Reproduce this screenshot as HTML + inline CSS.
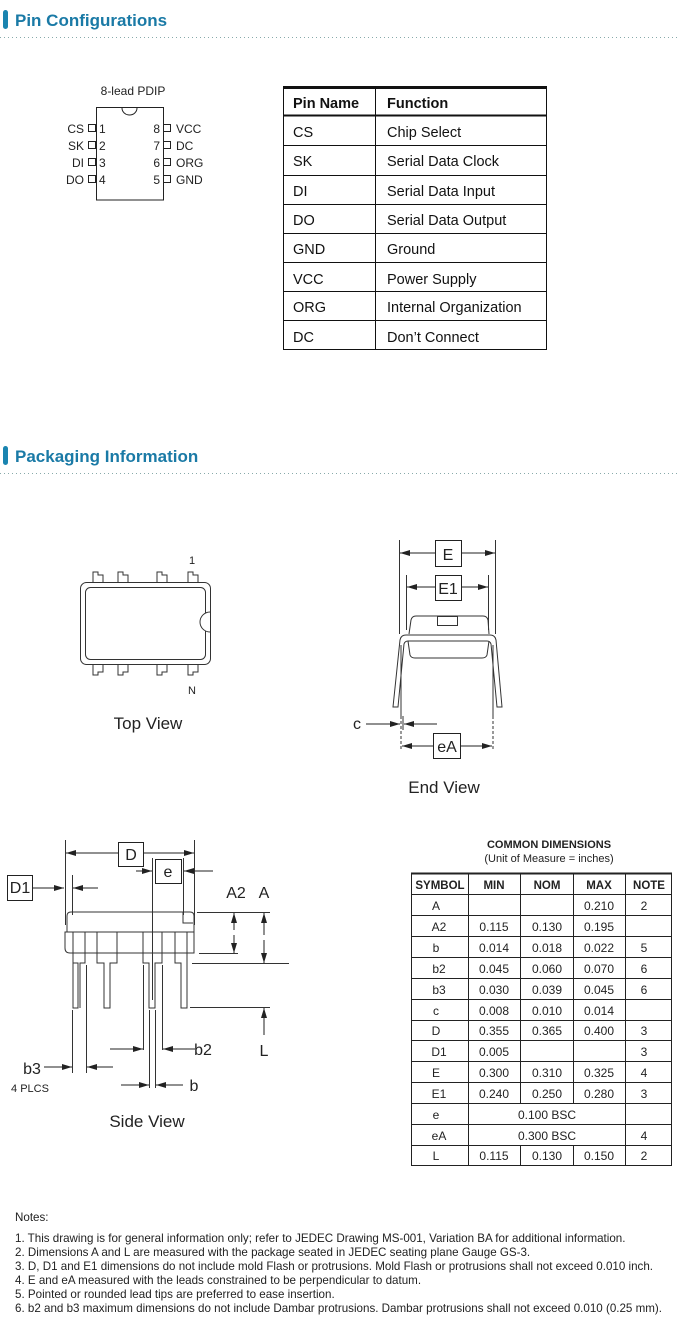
<!DOCTYPE html>
<html><head><meta charset="utf-8"><style>
html,body{margin:0;padding:0;background:#fff;}
svg{display:block;font-family:"Liberation Sans",sans-serif;}
</style></head><body>
<svg width="680" height="1342" viewBox="0 0 680 1342" xmlns="http://www.w3.org/2000/svg">
<defs>
<marker id="ar" viewBox="0 0 10 6" refX="10" refY="3" markerWidth="10" markerHeight="6" markerUnits="userSpaceOnUse" orient="auto"><path d="M0,0 L10,3 L0,6 z" fill="#222"/></marker>
</defs>
<!-- headers -->
<rect x="3" y="10" width="5" height="19" rx="2.5" fill="#1a84b0"/>
<text x="15" y="26" font-size="17" font-weight="bold" fill="#1a7aa6">Pin Configurations</text>
<line x1="0" y1="37.5" x2="680" y2="37.5" stroke="#8aa" stroke-dasharray="1,3"/>
<rect x="3" y="446" width="5" height="19" rx="2.5" fill="#1a84b0"/>
<text x="15" y="462" font-size="17" font-weight="bold" fill="#1a7aa6">Packaging Information</text>
<line x1="0" y1="473.5" x2="680" y2="473.5" stroke="#8aa" stroke-dasharray="1,3"/>

<!-- PDIP -->
<g fill="#222" font-size="12">
<text x="133" y="95" text-anchor="middle">8-lead PDIP</text>
<rect x="96.5" y="107.5" width="67" height="92.5" fill="none" stroke="#222"/>
<path d="M122,108 A7.5,7 0 0 0 137,108" fill="#fff" stroke="#222"/>
<g fill="none" stroke="#222">
<rect x="88.5" y="124.5" width="7" height="7"/><rect x="88.5" y="141.5" width="7" height="7"/><rect x="88.5" y="158.5" width="7" height="7"/><rect x="88.5" y="175.5" width="7" height="7"/>
<rect x="163.5" y="124.5" width="7" height="7"/><rect x="163.5" y="141.5" width="7" height="7"/><rect x="163.5" y="158.5" width="7" height="7"/><rect x="163.5" y="175.5" width="7" height="7"/>
</g>
<text x="84" y="133" text-anchor="end">CS</text><text x="84" y="150" text-anchor="end">SK</text><text x="84" y="167" text-anchor="end">DI</text><text x="84" y="184" text-anchor="end">DO</text>
<text x="99" y="133">1</text><text x="99" y="150">2</text><text x="99" y="167">3</text><text x="99" y="184">4</text>
<text x="160" y="133" text-anchor="end">8</text><text x="160" y="150" text-anchor="end">7</text><text x="160" y="167" text-anchor="end">6</text><text x="160" y="184" text-anchor="end">5</text>
<text x="176" y="133">VCC</text><text x="176" y="150">DC</text><text x="176" y="167">ORG</text><text x="176" y="184">GND</text>
</g>

<!-- pin table -->
<g stroke="#111" fill="none">
<line x1="283" y1="87.5" x2="547" y2="87.5" stroke-width="3"/>
<line x1="283" y1="115.5" x2="547" y2="115.5" stroke-width="2"/>
<line x1="283.5" y1="86" x2="283.5" y2="350"/>
<line x1="546.5" y1="86" x2="546.5" y2="350"/>
<line x1="375.5" y1="89" x2="375.5" y2="350"/>
<line x1="283" y1="145.5" x2="547" y2="145.5"/><line x1="283" y1="175.5" x2="547" y2="175.5"/><line x1="283" y1="204.5" x2="547" y2="204.5"/><line x1="283" y1="233.5" x2="547" y2="233.5"/><line x1="283" y1="262.5" x2="547" y2="262.5"/><line x1="283" y1="291.5" x2="547" y2="291.5"/><line x1="283" y1="320.5" x2="547" y2="320.5"/><line x1="283" y1="349.5" x2="547" y2="349.5"/>
</g>
<g fill="#111" font-size="14.5">
<text x="293" y="108" font-weight="bold">Pin Name</text><text x="387" y="108" font-weight="bold">Function</text>
<text x="293" y="137">CS</text><text x="387" y="137">Chip Select</text>
<text x="293" y="166">SK</text><text x="387" y="166">Serial Data Clock</text>
<text x="293" y="196">DI</text><text x="387" y="196">Serial Data Input</text>
<text x="293" y="225">DO</text><text x="387" y="225">Serial Data Output</text>
<text x="293" y="254">GND</text><text x="387" y="254">Ground</text>
<text x="293" y="284">VCC</text><text x="387" y="284">Power Supply</text>
<text x="293" y="312">ORG</text><text x="387" y="312">Internal Organization</text>
<text x="293" y="342">DC</text><text x="387" y="342">Don’t Connect</text>
</g>

<!-- Top view -->
<g fill="none" stroke="#333">
<rect x="80.5" y="582.5" width="130" height="82" rx="6"/>
<rect x="85.5" y="587.5" width="120" height="72" rx="5"/>
<path d="M210,612 A10,10 0 0 0 210,632" fill="#fff"/>
<path d="M93,582 V572 H98 V575 H103 V582 M118,582 V572 H123 V575 H128 V582 M157,582 V572 H162 V575 H167 V582 M188,582 V572 H193 V575 H198 V582"/>
<path d="M93,665 V675 H98 V672 H103 V665 M118,665 V675 H123 V672 H128 V665 M157,665 V675 H162 V672 H167 V665 M188,665 V675 H193 V672 H198 V665"/>
</g>
<text x="192" y="564" font-size="11" fill="#222" text-anchor="middle">1</text>
<text x="192" y="694" font-size="11" fill="#222" text-anchor="middle">N</text>
<text x="148" y="729" font-size="17" fill="#222" text-anchor="middle">Top View</text>

<!-- End view -->
<g fill="none" stroke="#333">
<line x1="399.5" y1="540" x2="399.5" y2="634"/><line x1="495.5" y1="540" x2="495.5" y2="634"/>
<line x1="406.5" y1="575" x2="406.5" y2="630"/><line x1="488.5" y1="575" x2="488.5" y2="630"/>
<path d="M409,634 L411,620 Q412,616 416,616 H483 Q487,616 488,620 L489,634"/>
<rect x="437.5" y="616.5" width="20" height="9"/>
<path d="M400,640 Q401,635 406,635 H490 Q495,635 496,640 L502,707 H497 L491,644 Q490,641 487,641 H408 Q405,641 404,644 L398,707 H393 Z"/>
<path d="M408,641 L410,655 Q411,658 415,658 H482 Q486,658 487,655 L489,641"/>
<line x1="401" y1="645" x2="401" y2="716"/><line x1="493" y1="645" x2="493" y2="716"/>
<line x1="401" y1="716" x2="401" y2="750" stroke-dasharray="3,2"/><line x1="493" y1="716" x2="493" y2="750" stroke-dasharray="3,2"/>
<line x1="403" y1="716" x2="403" y2="730"/>
</g>
<g stroke="#222" fill="none">
<line x1="435" y1="553" x2="400" y2="553" marker-end="url(#ar)"/><line x1="461" y1="553" x2="495" y2="553" marker-end="url(#ar)"/>
<line x1="435" y1="587" x2="407" y2="587" marker-end="url(#ar)"/><line x1="461" y1="587" x2="488" y2="587" marker-end="url(#ar)"/>
<line x1="366" y1="724" x2="400" y2="724" marker-end="url(#ar)"/><line x1="437" y1="724" x2="404" y2="724" marker-end="url(#ar)"/>
<line x1="433" y1="746" x2="402" y2="746" marker-end="url(#ar)"/><line x1="460" y1="746" x2="492" y2="746" marker-end="url(#ar)"/>
<rect x="435.5" y="540.5" width="26" height="26" fill="#fff"/>
<rect x="435.5" y="575.5" width="26" height="25" fill="#fff"/>
<rect x="433.5" y="733.5" width="27" height="25" fill="#fff"/>
</g>
<g fill="#222" font-size="16" text-anchor="middle">
<text x="448" y="560">E</text><text x="448" y="594">E1</text><text x="447" y="752">eA</text>
<text x="357" y="729">c</text>
<text x="444" y="793" font-size="17">End View</text>
</g>

<!-- Side view -->
<g fill="none" stroke="#333">
<line x1="65.5" y1="840" x2="65.5" y2="925"/><line x1="194.5" y1="840" x2="194.5" y2="925"/>
<line x1="72.5" y1="875" x2="72.5" y2="915"/>
<line x1="152.5" y1="858" x2="152.5" y2="1000"/><line x1="183.5" y1="858" x2="183.5" y2="915"/>
<path d="M67,932 V916 Q67,912 71,912 H190 Q194,912 194,916 V932"/>
<path d="M183,912 V923 H193"/>
<path d="M65,932 H194 V953 H70 Q65,953 65,948 Z"/>
<path d="M73,932 V963 H78 V1008 H73 Z M85,932 V963 H80 V1008 M97,932 V963 H104 V1008 H110 V963 H117 V932 M143,932 V963 H149 V1008 H155 V963 H162 V932 M175,932 V963 H181 V1008 H187 V932"/>
<line x1="197" y1="912.5" x2="270" y2="912.5"/><line x1="199" y1="953.5" x2="238" y2="953.5"/><line x1="192" y1="963.5" x2="289" y2="963.5"/><line x1="190" y1="1007.5" x2="270" y2="1007.5"/>
<line x1="72.5" y1="1010" x2="72.5" y2="1073"/><line x1="86.5" y1="965" x2="86.5" y2="1073"/>
<line x1="143.5" y1="965" x2="143.5" y2="1050"/><line x1="162.5" y1="965" x2="162.5" y2="1050"/>
<line x1="149.5" y1="1010" x2="149.5" y2="1088"/><line x1="155.5" y1="1010" x2="155.5" y2="1088"/>
</g>
<g stroke="#222" fill="none">
<line x1="118" y1="853" x2="66" y2="853" marker-end="url(#ar)"/><line x1="143" y1="853" x2="194" y2="853" marker-end="url(#ar)"/>
<line x1="136" y1="871" x2="152" y2="871" marker-end="url(#ar)"/><line x1="213" y1="871" x2="184" y2="871" marker-end="url(#ar)"/>
<line x1="32" y1="888" x2="64" y2="888" marker-end="url(#ar)"/><line x1="98" y1="888" x2="73" y2="888" marker-end="url(#ar)"/>
<line x1="234" y1="930" x2="234" y2="913" marker-end="url(#ar)"/><line x1="234" y1="935" x2="234" y2="953" marker-end="url(#ar)"/>
<line x1="264" y1="935" x2="264" y2="913" marker-end="url(#ar)"/><line x1="264" y1="940" x2="264" y2="963" marker-end="url(#ar)"/>
<line x1="264" y1="1035" x2="264" y2="1008" marker-end="url(#ar)"/>
<line x1="44" y1="1067" x2="72" y2="1067" marker-end="url(#ar)"/><line x1="113" y1="1067" x2="87" y2="1067" marker-end="url(#ar)"/>
<line x1="110" y1="1049" x2="143" y2="1049" marker-end="url(#ar)"/><line x1="195" y1="1049" x2="163" y2="1049" marker-end="url(#ar)"/>
<line x1="121" y1="1085" x2="149" y2="1085" marker-end="url(#ar)"/><line x1="183" y1="1085" x2="156" y2="1085" marker-end="url(#ar)"/>
<rect x="118.5" y="842.5" width="25" height="24" fill="#fff"/>
<rect x="155.5" y="859.5" width="26" height="24" fill="#fff"/>
<rect x="7.5" y="875.5" width="25" height="25" fill="#fff"/>
</g>
<g fill="#222" font-size="16" text-anchor="middle">
<text x="131" y="860">D</text><text x="168" y="877">e</text><text x="20" y="893">D1</text>
<text x="236" y="898">A2</text><text x="264" y="898">A</text><text x="264" y="1056">L</text>
<text x="32" y="1074">b3</text><text x="203" y="1055">b2</text><text x="194" y="1091">b</text>
<text x="30" y="1092" font-size="11">4 PLCS</text>
<text x="147" y="1127" font-size="17">Side View</text>
</g>

<!-- common dims table -->
<g fill="#222" text-anchor="middle" font-size="11">
<text x="549" y="848" font-weight="bold">COMMON DIMENSIONS</text>
<text x="549" y="862">(Unit of Measure = inches)</text>
</g>
<g stroke="#222" fill="none">
<line x1="411" y1="873.5" x2="672" y2="873.5" stroke-width="2"/>
<line x1="411.5" y1="873" x2="411.5" y2="1165"/><line x1="671.5" y1="873" x2="671.5" y2="1165"/>
<line x1="468.5" y1="873" x2="468.5" y2="1165"/>
<line x1="520.5" y1="873" x2="520.5" y2="1103"/><line x1="520.5" y1="1145" x2="520.5" y2="1165"/>
<line x1="573.5" y1="873" x2="573.5" y2="1103"/><line x1="573.5" y1="1145" x2="573.5" y2="1165"/>
<line x1="625.5" y1="873" x2="625.5" y2="1165"/>
<line x1="411" y1="894.5" x2="672" y2="894.5"/>
<line x1="411" y1="915.5" x2="672" y2="915.5"/><line x1="411" y1="936.5" x2="672" y2="936.5"/><line x1="411" y1="957.5" x2="672" y2="957.5"/><line x1="411" y1="978.5" x2="672" y2="978.5"/><line x1="411" y1="999.5" x2="672" y2="999.5"/><line x1="411" y1="1020.5" x2="672" y2="1020.5"/><line x1="411" y1="1040.5" x2="672" y2="1040.5"/><line x1="411" y1="1061.5" x2="672" y2="1061.5"/><line x1="411" y1="1082.5" x2="672" y2="1082.5"/><line x1="411" y1="1103.5" x2="672" y2="1103.5"/><line x1="411" y1="1124.5" x2="672" y2="1124.5"/><line x1="411" y1="1145.5" x2="672" y2="1145.5"/><line x1="411" y1="1165.5" x2="672" y2="1165.5"/>
</g>
<g fill="#222" font-size="12" text-anchor="middle">
<g font-weight="bold" font-size="11.5"><text x="440" y="889">SYMBOL</text><text x="494" y="889">MIN</text><text x="547" y="889">NOM</text><text x="599" y="889">MAX</text><text x="649" y="889">NOTE</text></g>
<text x="436" y="910">A</text><text x="599" y="910">0.210</text><text x="644" y="910">2</text>
<text x="439" y="931">A2</text><text x="494" y="931">0.115</text><text x="547" y="931">0.130</text><text x="599" y="931">0.195</text>
<text x="436" y="952">b</text><text x="494" y="952">0.014</text><text x="547" y="952">0.018</text><text x="599" y="952">0.022</text><text x="644" y="952">5</text>
<text x="439" y="973">b2</text><text x="494" y="973">0.045</text><text x="547" y="973">0.060</text><text x="599" y="973">0.070</text><text x="644" y="973">6</text>
<text x="439" y="994">b3</text><text x="494" y="994">0.030</text><text x="547" y="994">0.039</text><text x="599" y="994">0.045</text><text x="644" y="994">6</text>
<text x="436" y="1015">c</text><text x="494" y="1015">0.008</text><text x="547" y="1015">0.010</text><text x="599" y="1015">0.014</text>
<text x="436" y="1035">D</text><text x="494" y="1035">0.355</text><text x="547" y="1035">0.365</text><text x="599" y="1035">0.400</text><text x="644" y="1035">3</text>
<text x="439" y="1056">D1</text><text x="494" y="1056">0.005</text><text x="644" y="1056">3</text>
<text x="436" y="1077">E</text><text x="494" y="1077">0.300</text><text x="547" y="1077">0.310</text><text x="599" y="1077">0.325</text><text x="644" y="1077">4</text>
<text x="439" y="1098">E1</text><text x="494" y="1098">0.240</text><text x="547" y="1098">0.250</text><text x="599" y="1098">0.280</text><text x="644" y="1098">3</text>
<text x="436" y="1119">e</text><text x="547" y="1119">0.100 BSC</text>
<text x="439" y="1140">eA</text><text x="547" y="1140">0.300 BSC</text><text x="644" y="1140">4</text>
<text x="436" y="1160">L</text><text x="494" y="1160">0.115</text><text x="547" y="1160">0.130</text><text x="599" y="1160">0.150</text><text x="644" y="1160">2</text>
</g>

<!-- notes -->
<g fill="#222" font-size="11.6">
<text x="15" y="1221">Notes:</text>
<text x="15" y="1242">1. This drawing is for general information only; refer to JEDEC Drawing MS-001, Variation BA for additional information.</text>
<text x="15" y="1256">2. Dimensions A and L are measured with the package seated in JEDEC seating plane Gauge GS-3.</text>
<text x="15" y="1270">3. D, D1 and E1 dimensions do not include mold Flash or protrusions.  Mold Flash or protrusions shall not exceed 0.010 inch.</text>
<text x="15" y="1284">4. E and eA measured with the leads constrained to be perpendicular to datum.</text>
<text x="15" y="1298">5. Pointed or rounded lead tips are preferred to ease insertion.</text>
<text x="15" y="1312">6. b2 and b3 maximum dimensions do not include Dambar protrusions.  Dambar protrusions shall not exceed 0.010 (0.25 mm).</text>
</g>
</svg>
</body></html>
